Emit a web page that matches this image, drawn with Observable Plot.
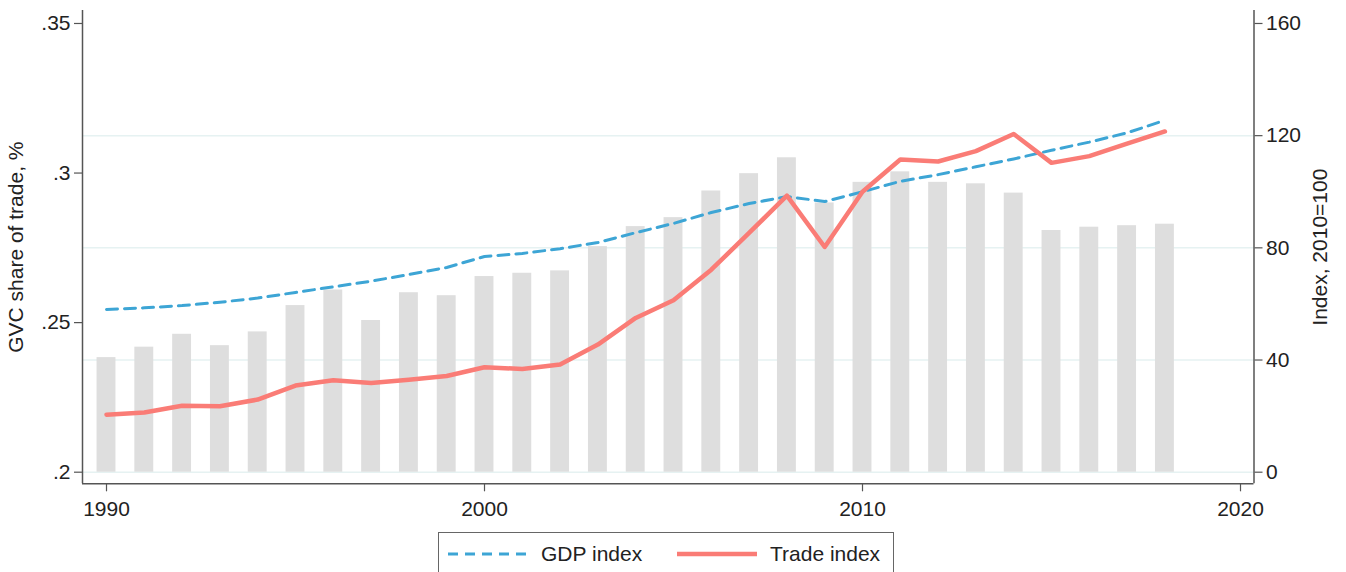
<!DOCTYPE html>
<html>
<head>
<meta charset="utf-8">
<script src="https://cdn.jsdelivr.net/npm/d3@7"></script>
<script src="https://cdn.jsdelivr.net/npm/@observablehq/plot@0.6"></script>
<style>
  html, body { margin: 0; padding: 0; background: #fff; }
  body { width: 1346px; height: 572px; position: relative; overflow: hidden; font-family: "Liberation Sans", Arial, Helvetica, sans-serif; }
  #chart { position: absolute; left: 0; top: 0; }
  #legend { position: absolute; left: 438px; top: 532px; width: 456px; height: 60px; border: 1px solid #666; box-sizing: border-box; background: #fff; }
  #legend .item { position: absolute; top: 6px; height: 30px; display: flex; align-items: center; font-size: 21px; color: #222; }
  #legend svg { margin-right: 13px; }
</style>
</head>
<body>
<div id="chart"></div>
<div id="legend"></div>
<script>
// ---- data ----
const years = [1990,1991,1992,1993,1994,1995,1996,1997,1998,1999,2000,2001,2002,2003,2004,2005,2006,2007,2008,2009,2010,2011,2012,2013,2014,2015,2016,2017,2018];
const gvcShare = [0.2383,0.2418,0.2461,0.2423,0.2469,0.2557,0.2609,0.2507,0.2600,0.2590,0.2654,0.2665,0.2673,0.2754,0.2821,0.2851,0.2940,0.2998,0.3051,0.2900,0.2969,0.3004,0.2969,0.2964,0.2933,0.2808,0.2819,0.2824,0.2829];
const gdpIndex = [58.0,58.6,59.4,60.6,62.1,64.1,66.1,68.1,70.5,73.0,76.9,78.0,79.7,81.9,85.4,88.7,92.6,95.8,98.3,96.5,100,103.7,106.1,108.9,111.7,114.8,117.7,121.0,125.5];
const tradeIndex = [20.5,21.3,23.7,23.5,25.9,30.9,32.8,31.8,33.0,34.3,37.4,36.8,38.4,45.5,55.0,61.3,72.2,85.3,98.6,80.3,100,111.5,110.8,114.5,120.6,110.3,112.7,117.2,121.5];
const leftTicks = [0.2, 0.25, 0.3, 0.35];
const rightTicks = [0, 40, 80, 120, 160];
const gridTicks = [0, 40, 80, 120];
const xTicks = [1990, 2000, 2010, 2020];
const seriesNames = ["GDP index", "Trade index"];
const leftLabel = "GVC share of trade, %";
const rightLabel = "Index, 2010=100";

// ---- styling ----
const barColor = "#dedede";
const gdpColor = "#3da5d5";
const tradeColor = "#fa7c76";
const axisColor = "#555";
const gridColor = "#e6f2f2";
const fontSize = 21;

// map right-axis index values onto the left (share) scale: 0 -> .2, 160 -> .35
const idx2y = v => 0.2 + v * 0.15 / 160;
const y2idx = v => Math.round((v - 0.2) * 160 / 0.15);

const rows = years.map((yr, i) => ({year: yr, share: gvcShare[i], gdp: gdpIndex[i], trade: tradeIndex[i]}));

const W = 1346, H = 525;
const xDomain = [1989.365, 2020.357];
const yDomain = [0.19612, 0.35434];

const chart = Plot.plot({
  width: W,
  height: H,
  marginLeft: 82,
  marginRight: W - 1253.5,
  marginTop: 10,
  marginBottom: H - 483.3,
  style: {fontFamily: '"Liberation Sans", Arial, Helvetica, sans-serif', fontSize: fontSize + "px", color: "#222", background: "#fff"},
  x: {domain: xDomain, range: [82, 1253.5]},
  y: {domain: yDomain},
  marks: [
    Plot.ruleY(gridTicks, {y: d => idx2y(d), stroke: gridColor, strokeWidth: 1.5}),
    Plot.rect(rows, {x1: d => d.year - 0.25, x2: d => d.year + 0.25, y1: 0.2, y2: "share", fill: barColor}),
    Plot.line(rows, {x: "year", y: d => idx2y(d.gdp), stroke: gdpColor, strokeWidth: 3, strokeDasharray: "11,7"}),
    Plot.line(rows, {x: "year", y: d => idx2y(d.trade), stroke: tradeColor, strokeWidth: 4.5, strokeLinejoin: "round", strokeLinecap: "round"}),
    // frame lines: left, right, bottom
    Plot.ruleX([xDomain[0]], {stroke: axisColor, strokeWidth: 1.5}),
    Plot.ruleX([xDomain[1]], {stroke: axisColor, strokeWidth: 1.5}),
    Plot.ruleY([yDomain[0]], {stroke: axisColor, strokeWidth: 1.5}),
    Plot.axisY(leftTicks, {anchor: "left", tickSize: 8, tickPadding: 4, stroke: axisColor, strokeWidth: 1.2,
      tickFormat: d => String(d).replace(/^0/, ""), label: leftLabel, labelAnchor: "center", labelArrow: "none", labelOffset: 74, fontSize: fontSize}),
    Plot.axisY(rightTicks.map(idx2y), {anchor: "right", tickSize: 8, tickPadding: 4, stroke: axisColor, strokeWidth: 1.2,
      tickFormat: d => String(y2idx(d)), label: rightLabel, labelAnchor: "center", labelArrow: "none", labelOffset: 73, fontSize: fontSize}),
    Plot.axisX(xTicks, {anchor: "bottom", tickSize: 8, tickPadding: 9, stroke: axisColor, strokeWidth: 1.2,
      tickFormat: d => String(d), label: null, fontSize: fontSize})
  ]
});
document.getElementById("chart").appendChild(chart);

// ---- legend ----
const legend = document.getElementById("legend");
const items = [
  {name: seriesNames[0], color: gdpColor, dash: "10,7", width: 3, left: 9},
  {name: seriesNames[1], color: tradeColor, dash: null, width: 4.5, left: 238}
];
items.forEach(it => {
  const div = document.createElement("div");
  div.className = "item";
  div.style.left = it.left + "px";
  const svg = d3.create("svg").attr("width", 80).attr("height", 20);
  svg.append("line").attr("x1", 0).attr("x2", 80).attr("y1", 10).attr("y2", 10)
    .attr("stroke", it.color).attr("stroke-width", it.width)
    .attr("stroke-dasharray", it.dash);
  div.appendChild(svg.node());
  const span = document.createElement("span");
  span.textContent = it.name;
  div.appendChild(span);
  legend.appendChild(div);
});
</script>
</body>
</html>
